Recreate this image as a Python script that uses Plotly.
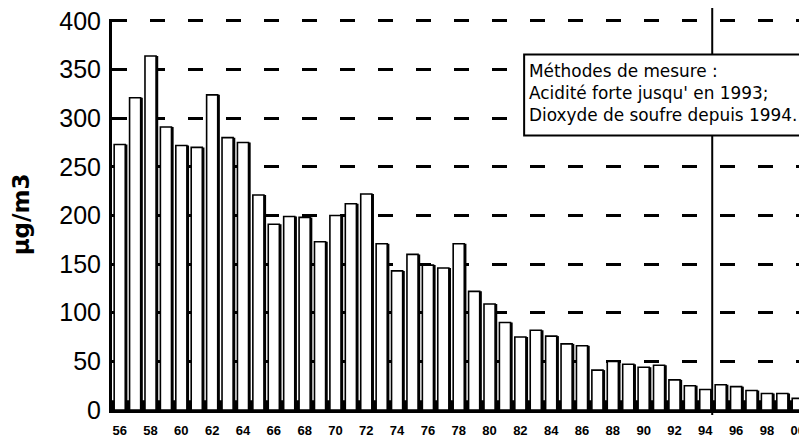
import plotly.graph_objects as go

years = list(range(1956, 2001))
values = [273, 321, 364, 291, 272, 270, 324, 280, 275, 221,
          191, 199, 198, 173, 200, 212, 222, 171, 143, 160,
          149, 146, 171, 122, 109, 90, 75, 82, 76, 68,
          66, 41, 50, 47, 44, 46, 31, 25, 21, 26,
          24, 20, 17, 17, 12]
tick_years = list(range(1956, 2001, 2))
tick_labels = [str(y)[2:] for y in tick_years]
y_ticks = [0, 50, 100, 150, 200, 250, 300, 350, 400]
note_lines = ["Méthodes de mesure :", "Acidité forte jusqu' en 1993;", "Dioxyde de soufre depuis 1994."]
y_title = "µg/m3"
split_year = 1994.45

BAR_W = 0.72
fig = go.Figure()
fig.add_trace(go.Bar(x=years, y=values, width=BAR_W, offset=-BAR_W / 2 + 0.14,
                     marker=dict(color="black", line=dict(width=0)), hoverinfo="skip"))
fig.add_trace(go.Bar(x=years, y=values, width=BAR_W, offset=-BAR_W / 2,
                     marker=dict(color="white", line=dict(color="black", width=1.6))))

fig.add_shape(type="rect", xref="paper", x0=0, x1=1, yref="y", y0=0, y1=10,
              fillcolor="black", line=dict(width=0), layer="below")
fig.add_shape(type="line", xref="x", x0=split_year, x1=split_year,
              yref="paper", y0=-0.013, y1=1.06, line=dict(color="black", width=2))
fig.add_shape(type="rect", xref="paper", yref="paper", x0=0.593, x1=1.01, y0=0.702, y1=0.909,
              fillcolor="white", line=dict(color="black", width=2), layer="above")

fig.add_annotation(xref="paper", yref="paper", x=0.598, y=0.812, xanchor="left", yanchor="middle",
                   text="<br>".join(note_lines), showarrow=False, align="left",
                   font=dict(family="DejaVu Sans", size=16.9, color="black"), borderpad=0)

fig.update_layout(
    width=799, height=433, barmode="overlay", showlegend=False,
    margin=dict(l=104, r=0, t=11, b=31),
    plot_bgcolor="white", paper_bgcolor="white",
    font=dict(family="Liberation Sans", color="black"),
    xaxis=dict(range=[1955.5, 2000.6], tickmode="array", tickvals=tick_years, ticktext=tick_labels,
               tickfont=dict(size=13, family="Liberation Sans", weight="bold"), ticklabelstandoff=6,
               ticklabeloverflow="allow",
               showgrid=False, showline=True, linecolor="black", linewidth=3, ticks="", zeroline=False),
    yaxis=dict(range=[0, 402], tickmode="array", tickvals=y_ticks,
               tickfont=dict(size=25, family="Liberation Sans"), ticklabelstandoff=3,
               ticklabeloverflow="allow",
               title=dict(text="<b>" + y_title + "</b>", standoff=35,
                          font=dict(family="DejaVu Sans", size=23, color="black")),
               showgrid=True, gridcolor="black", gridwidth=3, griddash="15px,23px",
               showline=True, linecolor="black", linewidth=3, ticks="", zeroline=False),
)
fig.write_html("out.html")
